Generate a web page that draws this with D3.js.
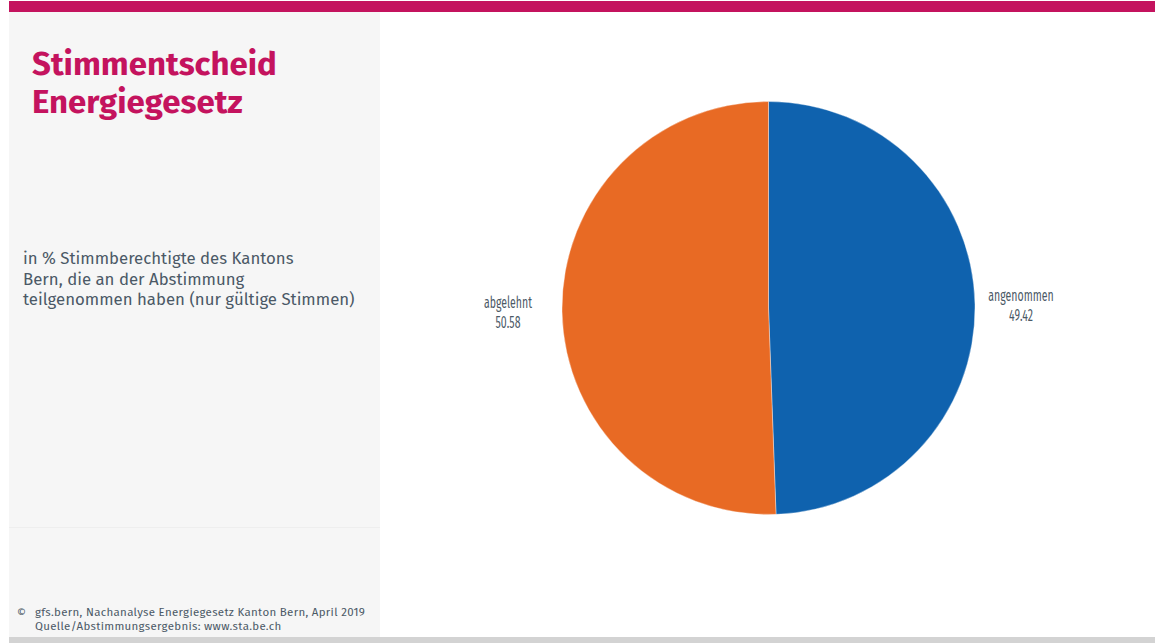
<!DOCTYPE html>
<html>
<head>
<meta charset="utf-8">
<script src="https://cdn.jsdelivr.net/npm/d3@7"></script>
<style>
  html, body { margin: 0; padding: 0; background: #ffffff; }
  svg { display: block; }
  text { font-family: "Fira Sans", "Open Sans", "Noto Sans", sans-serif; }
</style>
</head>
<body>
<svg id="chart" width="1155" height="643"></svg>
<script>
// Vote result, canton of Bern
const categories = ["angenommen", "abgelehnt"];
const values = [49.42, 50.58];
const colors = ["#0f62ae", "#e86a24"];

const titleLines = ["Stimmentscheid", "Energiegesetz"];
const subtitleLines = [
  "in % Stimmberechtigte des Kantons",
  "Bern, die an der Abstimmung",
  "teilgenommen haben (nur gültige Stimmen)"
];
const sourceLines = [
  "gfs.bern, Nachanalyse Energiegesetz Kanton Bern, April 2019",
  "Quelle/Abstimmungsergebnis: www.sta.be.ch"
];

const svg = d3.select("#chart");

// frame: top accent bar, side panel, bottom strip
svg.append("rect").attr("x", 9).attr("y", 1).attr("width", 1146).attr("height", 11).attr("fill", "#c4135e");
svg.append("rect").attr("x", 9).attr("y", 12).attr("width", 371).attr("height", 626).attr("fill", "#f6f6f6");
svg.append("line").attr("x1", 9).attr("x2", 380).attr("y1", 527.5).attr("y2", 527.5)
  .attr("stroke", "#eeeeee").attr("stroke-width", 1);
svg.append("rect").attr("x", 9).attr("y", 637).attr("width", 1146).attr("height", 6).attr("fill", "#d3d3d3");

// title
const title = svg.append("text").attr("fill", "#c4135e").attr("font-weight", 700).attr("font-size", 33);
titleLines.forEach((t, i) => title.append("tspan").attr("x", 32).attr("y", 75 + i * 38).text(t));

// subtitle
const sub = svg.append("text").attr("fill", "#4b5966").attr("font-size", 16.8);
subtitleLines.forEach((t, i) => sub.append("tspan").attr("x", 23).attr("y", 264 + i * 20.5).text(t));

// source
svg.append("text").attr("x", 17).attr("y", 616).attr("fill", "#4b5966").attr("font-size", 11).text("©");
const src = svg.append("text").attr("fill", "#4b5966").attr("font-size", 11.5).attr("letter-spacing", 0.3);
sourceLines.forEach((t, i) => src.append("tspan").attr("x", 35).attr("y", 616 + i * 14).text(t));

// pie
const cx = 768.5, cy = 308, r = 206.5;
const pie = d3.pie().sort(null).value(d => d.value);
const arc = d3.arc().innerRadius(0).outerRadius(r);
const data = categories.map((c, i) => ({ name: c, value: values[i], color: colors[i] }));
const arcs = pie(data);

const g = svg.append("g").attr("transform", `translate(${cx},${cy})`);
g.selectAll("path").data(arcs).join("path")
  .attr("d", arc)
  .attr("fill", d => d.data.color)
  .attr("stroke", "#ffffff").attr("stroke-width", 0.6).attr("stroke-opacity", 0.6);

// outside labels, placed beside each slice at mid-height (condensed)
const labelPos = [
  { x: 1021, y: 301 },
  { x: 508, y: 308 }
];
arcs.forEach((d, i) => {
  const t = g.append("text")
    .attr("text-anchor", "middle")
    .attr("fill", "#4b5966")
    .attr("font-size", 16)
    .attr("transform", `translate(${labelPos[i].x - cx},${labelPos[i].y - cy}) scale(0.66,1)`);
  t.append("tspan").attr("x", 0).attr("y", 0).text(d.data.name);
  t.append("tspan").attr("x", 0).attr("y", 20).text(d3.format(".2f")(d.data.value));
});
</script>
</body>
</html>
